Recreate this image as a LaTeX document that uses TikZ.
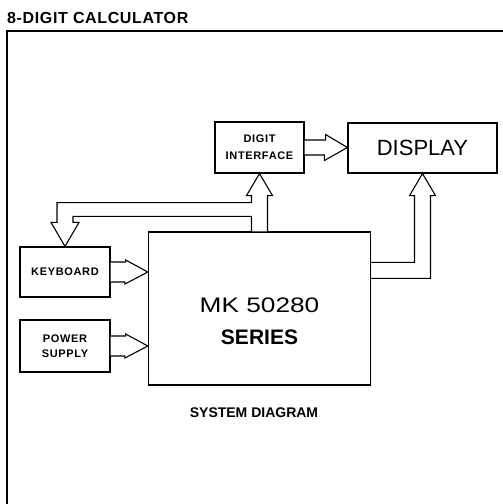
\documentclass[tikz,border=0pt]{standalone}
\usepackage{fontspec}
\setmainfont{Liberation Sans}
\newfontfamily\widefont[FakeStretch=1.25]{Liberation Sans}
\usetikzlibrary{calc}

\begin{document}
\begin{tikzpicture}[x=1pt,y=-1pt]
  \tikzstyle{block}=[draw,line width=1.2pt,fill=white,inner sep=0pt,align=center]
  \tikzstyle{small}=[font=\bfseries\fontsize{11}{15}\selectfont\addfontfeatures{LetterSpace=6}]
  \tikzstyle{fat}=[draw,line width=1.1pt,fill=white,line join=miter]

  \useasboundingbox (0,0) rectangle (503,504);
  \draw[line width=1.2pt] (7,504) -- (7,31) -- (503,31);
  \node[anchor=west,inner sep=0pt,font=\bfseries\fontsize{16}{18}\selectfont\addfontfeatures{LetterSpace=4}]
    (title) at (7,18) {8-DIGIT CALCULATOR};

  % blocks
  \node[block,minimum width=222pt,minimum height=153pt] (mk) at (259.5,308.5) {};
  \node[align=center,inner sep=0pt,font=\widefont\fontsize{21}{32}\selectfont]
    (mklabel) at ($(mk.center)+(0,13)$) {MK 50280\\ {\rmfamily\bfseries SERIES}};
  \node[block,small,minimum width=90pt,minimum height=50pt] (kbd) at (65,272) {KEYBOARD};
  \node[block,small,minimum width=90pt,minimum height=52pt] (psu) at (65,346) {POWER\\SUPPLY};
  \node[block,minimum width=89pt,minimum height=51pt,
    font=\bfseries\fontsize{11}{17}\selectfont\addfontfeatures{LetterSpace=6}]
    (dif) at (259.5,147.5) {DIGIT\\INTERFACE};
  \node[block,minimum width=149pt,minimum height=50pt,font=\fontsize{22}{26}\selectfont]
    (disp) at (422.5,148) {DISPLAY};

  % fat arrows
  \draw[fat] ($(kbd.east)+(0,-10)$) -- ++(15,0) -- ++(0,-2) -- (kbd.east -| mk.west)
    -- ++(-23,12) -- ++(0,-2) -- ($(kbd.east)+(0,10)$);
  \draw[fat] ($(psu.east)+(0,-10)$) -- ++(15,0) -- ++(0,-2) -- (psu.east -| mk.west)
    -- ++(-23,12) -- ++(0,-2) -- ($(psu.east)+(0,10)$);
  \draw[fat] ($(dif.east)+(0,-7.5)$) -- ++(21,0) -- ++(0,-5.5) -- (dif.east -| disp.west)
    -- ++(-23,13) -- ++(0,-5.5) -- ($(dif.east)+(0,7.5)$);
  \draw[fat] ($(mk.north)+(8,0)$) -- ($(dif.south)+(8,22)$) -- ++(5,0) -- (dif.south)
    -- ++(-13,22) -- ++(5,0) -- ++(0,7) -| ($(kbd.north)+(-8,-24)$) -- ++(-6,0)
    -- (kbd.north) -- ++(14,-24) -- ++(-6,0) -- ++(0,-6) -| ($(mk.north)+(-8,0)$);
  \draw[fat] ($(mk.north east)+(0,31)$) -| ($(disp.south)+(-8,22)$) -- ++(-5,0)
    -- (disp.south) -- ++(13,22) -- ++(-5,0) |- ($(mk.north east)+(0,47)$);

  \node[font=\bfseries\fontsize{14}{16}\selectfont] (caption) at (254,413) {SYSTEM DIAGRAM};
\end{tikzpicture}
\end{document}
